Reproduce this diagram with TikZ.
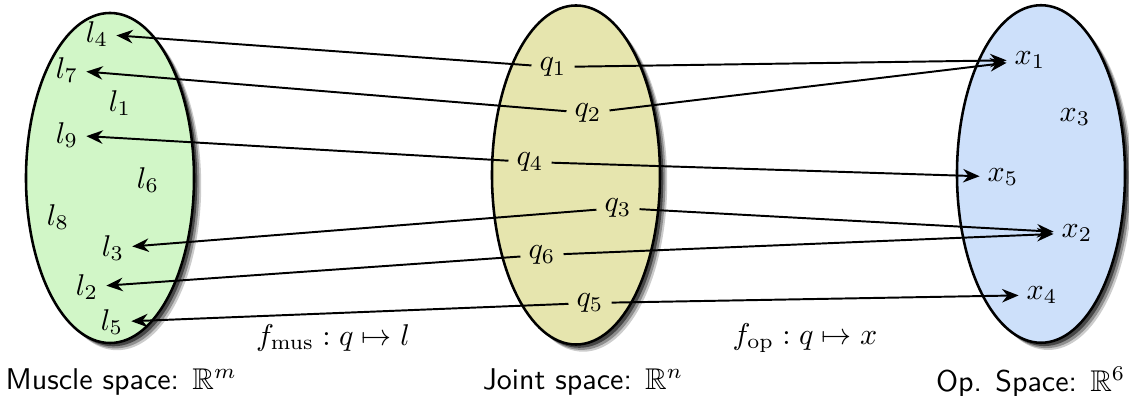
\documentclass[tikz,border=0pt]{standalone}
\usepackage{amssymb}
\usetikzlibrary{shapes.geometric,shadows,arrows.meta}
\definecolor{muscfill}{RGB}{209,246,199}
\definecolor{jointfill}{RGB}{230,229,174}
\definecolor{opfill}{RGB}{205,224,250}
\begin{document}
\begin{tikzpicture}[x=0.3333pt,y=-0.3333pt,
  space/.style={ellipse, draw=black, line width=0.85pt, minimum width=56pt, inner sep=0pt,
    drop shadow={shadow xshift=2.4pt, shadow yshift=-2.4pt, fill=black, opacity=0.2},
    drop shadow={shadow xshift=1.8pt, shadow yshift=-1.8pt, fill=black, opacity=0.3},
    drop shadow={shadow xshift=1.1pt, shadow yshift=-1.1pt, fill=black, opacity=0.5}},
  lab/.style={inner sep=2.5pt},
  map/.style={-{Stealth[length=5.5pt,width=4.5pt]}, line width=0.65pt},
  capt/.style={font=\sffamily}
]
\useasboundingbox (0,0) rectangle (1129,396);
\node[space, fill=muscfill, minimum height=110pt] (muscle) at (110,178) {};
\node[space, fill=jointfill, minimum height=113pt] (joint) at (576,175) {};
\node[space, fill=opfill, minimum height=112.5pt] (op) at (1041,174) {};

% muscle space
\node[lab] (l4) at (97,34) {$l_4$};
\node[lab] (l7) at (67,70) {$l_7$};
\node[lab] (l1) at (120,103) {$l_1$};
\node[lab] (l9) at (67,135) {$l_9$};
\node[lab] (l6) at (148,180) {$l_6$};
\node[lab] (l8) at (58,217) {$l_8$};
\node[lab] (l3) at (113,248) {$l_3$};
\node[lab] (l2) at (87,287) {$l_2$};
\node[lab] (l5) at (112,322) {$l_5$};

% joint space
\node[lab] (q1) at (553,67) {$q_1$};
\node[lab] (q2) at (588,113) {$q_2$};
\node[lab] (q4) at (530,162) {$q_4$};
\node[lab] (q3) at (618,208) {$q_3$};
\node[lab] (q6) at (542,255) {$q_6$};
\node[lab] (q5) at (590,303) {$q_5$};

% op space
\node[lab] (x1) at (1030,60) {$x_1$};
\node[lab] (x3) at (1075,117) {$x_3$};
\node[lab] (x5) at (1003,177) {$x_5$};
\node[lab] (x2) at (1077,233) {$x_2$};
\node[lab] (x4) at (1042,295) {$x_4$};

% maps
\draw[map] (q1) -- (l4);
\draw[map] (q1) -- (x1);
\draw[map] (q2) -- (l7);
\draw[map] (q2) -- (x1);
\draw[map] (q4) -- (l9);
\draw[map] (q4) -- (x5);
\draw[map] (q3) -- (l3);
\draw[map] (q3) -- (x2);
\draw[map] (q6) -- (l2);
\draw[map] (q6) -- (x2);
\draw[map] (q5) -- (l5);
\draw[map] (q5) -- (x4);

% function labels
\node (fmus) at (333,338) {$f_{\mathrm{mus}}: q\mapsto l$};
\node (fop) at (805,338) {$f_{\mathrm{op}}: q\mapsto x$};

% captions
\node[capt, anchor=west, inner sep=0pt] (cm) at (5,382) {Muscle space: $\mathbb{R}^m$};
\node[capt] (cj) at (583,382) {Joint space: $\mathbb{R}^n$};
\node[capt, anchor=east, inner sep=0pt] (co) at (1126,382) {Op. Space: $\mathbb{R}^6$};
\end{tikzpicture}
\end{document}
